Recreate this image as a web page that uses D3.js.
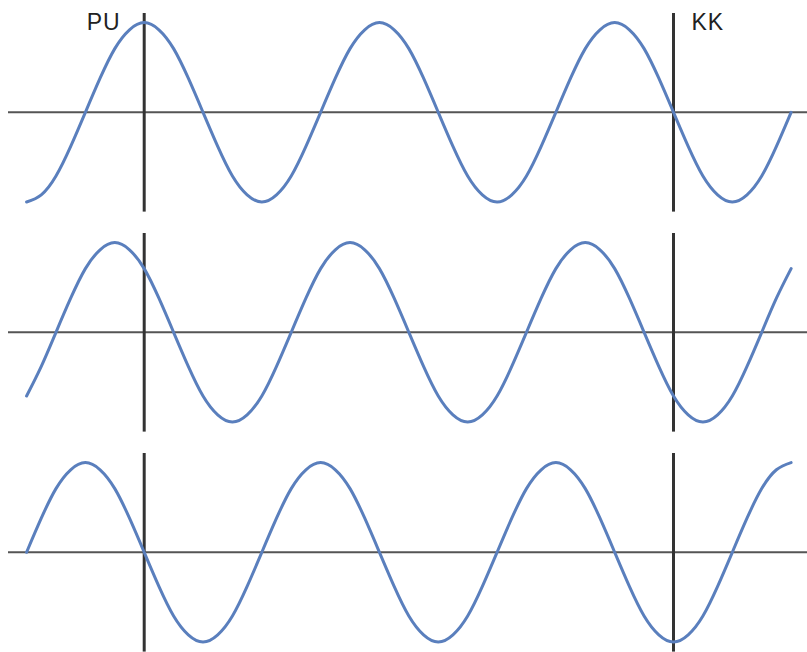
<!DOCTYPE html>
<html>
<head>
<meta charset="utf-8">
<script src="https://cdn.jsdelivr.net/npm/d3@7"></script>
<style>
  html, body { margin: 0; padding: 0; background: #fff; }
  svg { display: block; }
</style>
</head>
<body>
<svg id="chart" width="807" height="652"></svg>
<script>
// Phase angle (degrees) of each sample along the horizontal axis
const phases = [-180, -157.5, -135, -112.5, -90, -67.5, -45, -22.5,
                0, 22.5, 45, 67.5, 90, 112.5, 135, 157.5,
                180, 202.5, 225, 247.5, 270, 292.5, 315, 337.5,
                360, 382.5, 405, 427.5, 450, 472.5, 495, 517.5,
                540, 562.5, 585, 607.5, 630, 652.5, 675, 697.5,
                720, 742.5, 765, 787.5, 810, 832.5, 855, 877.5,
                900, 922.5, 945, 967.5, 990];

// Signal in each of the three rows, sampled at the phases above
const waveTop = [
  -1, -0.92, -0.71, -0.38, 0, 0.38, 0.71, 0.92, 1, 0.92, 0.71, 0.38, 0, -0.38, -0.71, -0.92,
  -1, -0.92, -0.71, -0.38, 0, 0.38, 0.71, 0.92, 1, 0.92, 0.71, 0.38, 0, -0.38, -0.71, -0.92,
  -1, -0.92, -0.71, -0.38, 0, 0.38, 0.71, 0.92, 1, 0.92, 0.71, 0.38, 0, -0.38, -0.71, -0.92,
  -1, -0.92, -0.71, -0.38, 0];
const waveMiddle = [
  -0.71, -0.38, 0, 0.38, 0.71, 0.92, 1, 0.92, 0.71, 0.38, 0, -0.38, -0.71, -0.92, -1, -0.92,
  -0.71, -0.38, 0, 0.38, 0.71, 0.92, 1, 0.92, 0.71, 0.38, 0, -0.38, -0.71, -0.92, -1, -0.92,
  -0.71, -0.38, 0, 0.38, 0.71, 0.92, 1, 0.92, 0.71, 0.38, 0, -0.38, -0.71, -0.92, -1, -0.92,
  -0.71, -0.38, 0, 0.38, 0.71];
const waveBottom = [
  0, 0.38, 0.71, 0.92, 1, 0.92, 0.71, 0.38, 0, -0.38, -0.71, -0.92, -1, -0.92, -0.71, -0.38,
  0, 0.38, 0.71, 0.92, 1, 0.92, 0.71, 0.38, 0, -0.38, -0.71, -0.92, -1, -0.92, -0.71, -0.38,
  0, 0.38, 0.71, 0.92, 1, 0.92, 0.71, 0.38, 0, -0.38, -0.71, -0.92, -1, -0.92, -0.71, -0.38,
  0, 0.38, 0.71, 0.92, 1];

// Marker positions (degrees) and their captions
const markerPhases = [0, 810];
const markerLabels = ["PU", "KK"];

const rows = [waveTop, waveMiddle, waveBottom];

const svg = d3.select("#chart");

const x = d3.scaleLinear().domain([0, 810]).range([144.2, 673.5]);

const rowCenters = [112.3, 332.3, 552.3];
const amplitude = 89.7;
const markerHalf = 99.3;

rows.forEach((values, i) => {
  const cy = rowCenters[i];
  const y = d3.scaleLinear().domain([-1, 1]).range([cy + amplitude, cy - amplitude]);
  const g = svg.append("g");

  // zero line
  g.append("line")
    .attr("x1", 8).attr("x2", 807)
    .attr("y1", y(0)).attr("y2", y(0))
    .attr("stroke", "#555").attr("stroke-width", 2);

  // marker lines
  g.selectAll("line.marker")
    .data(markerPhases)
    .join("line")
    .attr("class", "marker")
    .attr("x1", d => x(d)).attr("x2", d => x(d))
    .attr("y1", cy - markerHalf).attr("y2", cy + markerHalf)
    .attr("stroke", "#333").attr("stroke-width", 3);

  // waveform
  const line = d3.line()
    .x((d, j) => x(phases[j]))
    .y(d => y(d))
    .curve(d3.curveNatural);

  g.append("path")
    .datum(values)
    .attr("d", line)
    .attr("fill", "none")
    .attr("stroke", "#5a7fbd")
    .attr("stroke-width", 3)
    .attr("stroke-linecap", "round");
});

// captions for the markers, top row only
svg.selectAll("text.caption")
  .data(markerPhases)
  .join("text")
  .attr("class", "caption")
  .attr("x", (d, i) => i === 0 ? x(d) - 57.5 : x(d) + 18)
  .attr("y", 29.5)
  .attr("font-family", "Liberation Sans, Arial, sans-serif")
  .attr("font-size", 23)
  .attr("letter-spacing", 1)
  .attr("fill", "#222")
  .text((d, i) => markerLabels[i]);
</script>
</body>
</html>
